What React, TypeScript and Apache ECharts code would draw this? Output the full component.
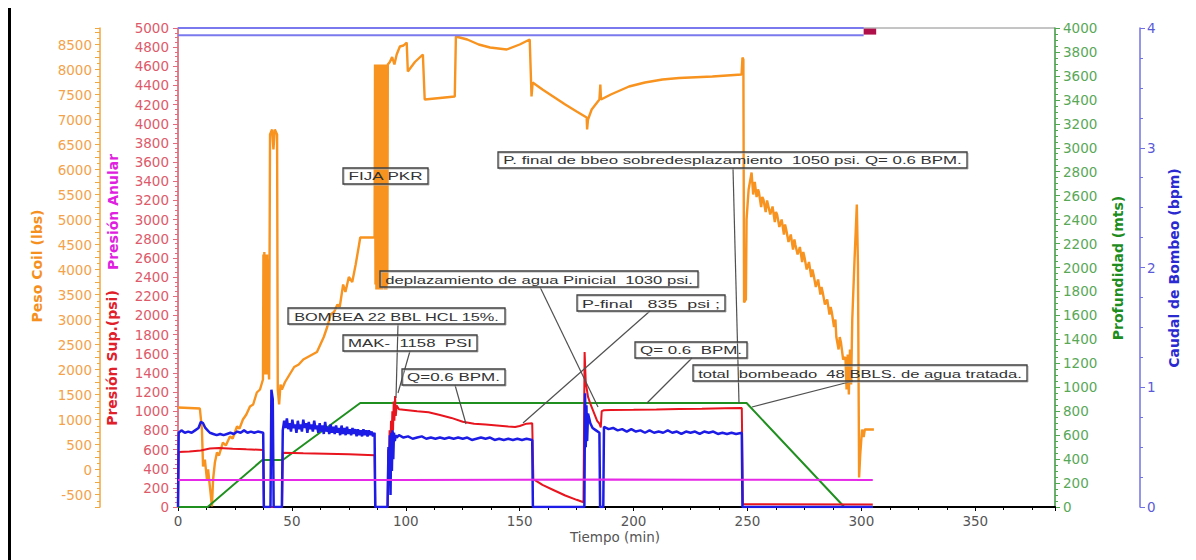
import React, { useEffect, useRef } from "react";
import * as echarts from "echarts";

// ---------- data (x = Tiempo (min)) ----------
const tiempoTicks = { min: 0, max: 385, step: 50 };
const presionTicks = { min: 0, max: 5000, step: 200 };
const pesoTicks = { min: -750, max: 8830, step: 250, label: 500 };
const profTicks = { min: 0, max: 4000, step: 200 };
const caudalTicks = { min: 0, max: 4, step: 1 };

// Caudal de Bombeo (bpm)
const caudal: number[][] = [
  [0, 0], [0.3, 0.62], [1.5, 0.64], [3, 0.62], [4.5, 0.63], [6, 0.62], [7.5, 0.64], [9, 0.66], [10, 0.71], [11, 0.7],
  [12, 0.66], [13, 0.64], [14, 0.62], [15.5, 0.61], [17, 0.6], [18.5, 0.61], [20, 0.6], [21.5, 0.61], [23, 0.62],
  [24.5, 0.61], [26, 0.63], [27.5, 0.62], [29, 0.64], [30.5, 0.62], [32, 0.63], [33.5, 0.62], [35, 0.63], [37.4, 0.62],
  [37.7, 0], [40.6, 0], [41, 0.98], [41.6, 0.9], [42, 0], [45.6, 0],
  [46, 0.64], [46.6, 0.72], [47.2, 0.66], [47.8, 0.74], [48.4, 0.65], [49, 0.7], [49.6, 0.63], [50.2, 0.73], [50.8, 0.66],
  [51.4, 0.69], [52, 0.62], [52.6, 0.72], [53.2, 0.65], [53.8, 0.69], [54.4, 0.63], [55, 0.73], [55.6, 0.66], [56.2, 0.7],
  [56.8, 0.62], [57.4, 0.71], [58, 0.65], [58.6, 0.69], [59.2, 0.63], [59.8, 0.72], [60.4, 0.65], [61, 0.68], [61.6, 0.62],
  [62.2, 0.7], [62.8, 0.63], [63.4, 0.68], [64, 0.61], [64.6, 0.71], [65.2, 0.63], [65.8, 0.67], [66.4, 0.61], [67, 0.69],
  [67.6, 0.62], [68.2, 0.67], [68.8, 0.61], [69.4, 0.68], [70, 0.62], [70.6, 0.66], [71.2, 0.6], [71.8, 0.68], [72.4, 0.61],
  [73, 0.66], [73.6, 0.6], [74.2, 0.67], [74.8, 0.61], [75.4, 0.65], [76, 0.6], [76.6, 0.66], [77.2, 0.61], [77.8, 0.65],
  [78.4, 0.59], [79, 0.65], [79.6, 0.6], [80.2, 0.64], [80.8, 0.59], [81.4, 0.65], [82, 0.6], [82.6, 0.64], [83.2, 0.59],
  [83.8, 0.64], [84.4, 0.6], [85, 0.63], [85.6, 0.59], [86.3, 0.62], [86.6, 0],
  [92, 0], [92.4, 0.5], [92.7, 0.2], [93, 0.6], [93.3, 0.1], [93.6, 0.62], [93.9, 0.3], [94.2, 0.64], [94.5, 0.4],
  [94.8, 0.62], [95.2, 0.55], [95.6, 0.6], [96, 0.58],
  [97, 0.6], [99, 0.58], [101, 0.59], [103, 0.57], [105, 0.58], [107, 0.59], [109, 0.57], [111, 0.58], [113, 0.57],
  [115, 0.58], [117, 0.57], [119, 0.58], [121, 0.57], [123, 0.58], [125, 0.57], [127, 0.58], [129, 0.56], [131, 0.57],
  [133, 0.58], [135, 0.57], [137, 0.58], [139, 0.56], [141, 0.57], [143, 0.56], [145, 0.57], [147, 0.56], [149, 0.57],
  [151, 0.56], [153, 0.57], [155.5, 0.56], [155.8, 0],
  [178.4, 0], [178.7, 0.95], [179, 0.5], [179.3, 0.85], [179.6, 0.55], [180, 0.78], [181, 0.7], [182, 0.66], [183.5, 0.64],
  [185, 0.62], [185.3, 0], [186.7, 0],
  [187, 0.67], [189, 0.65], [191, 0.66], [193, 0.64], [195, 0.65], [197, 0.63], [199, 0.65], [201, 0.63], [203, 0.64],
  [205, 0.62], [207, 0.64], [209, 0.62], [211, 0.63], [213, 0.62], [215, 0.64], [217, 0.62], [219, 0.63], [221, 0.61],
  [223, 0.63], [225, 0.62], [227, 0.63], [229, 0.61], [231, 0.63], [233, 0.62], [235, 0.63], [237, 0.61], [239, 0.62],
  [241, 0.61], [243, 0.62], [245, 0.61], [247.5, 0.62], [247.8, 0], [305, 0],
];

// Presión Sup. (psi)
const presionSup: number[][] = [
  [0, 0], [0.3, 575], [5, 580], [10, 590], [14, 610], [18, 616], [24, 608], [30, 602], [37.4, 596], [37.7, 0],
  [45.7, 0], [46, 565], [55, 560], [65, 555], [75, 550], [86.3, 540], [86.6, 0],
  [92, 0], [92.3, 600], [92.6, 350], [92.9, 800], [93.2, 500], [93.5, 900], [93.8, 700], [94.1, 1000], [94.4, 800],
  [94.7, 1100], [95, 900], [95.3, 1158], [95.6, 950], [96, 1060], [97, 1020], [100, 1013], [105, 1000], [110, 990],
  [115, 960], [120, 930], [125, 890], [130, 870], [135, 860], [140, 850], [145, 840], [148, 835], [150, 845],
  [153, 870], [155.5, 875], [156, 290], [160, 230], [165, 175], [170, 120], [175, 75], [178, 50],
  [178.5, 1618], [179, 1300], [180, 1150], [181, 1080], [182, 1020], [183, 960], [184, 900], [185, 870], [185.6, 830],
  [186, 1000], [187, 1010], [190, 1013], [200, 1015], [210, 1018], [220, 1022], [230, 1025], [240, 1030], [247.5, 1033],
  [248, 30], [305, 25],
];

// Presión Anular (psi)
const presionAnular: number[][] = [
  [0, 282], [100, 282], [190, 286], [230, 284], [305, 282],
];

// Profundidad (mts)
const profundidad: number[][] = [
  [0, 0], [13, 0], [37, 392], [46, 392], [80, 868], [249.6, 868], [292.5, 0], [305, 0],
];

// Peso Coil (lbs)
const pesoCoil: number[][] = [
  [0, 1240], [5, 1230], [9.6, 1220], [10.5, 800], [11, 60], [11.8, 200], [12.7, -200], [13.2, 0], [14, -340],
  [14.9, -740], [15.4, -200], [16.2, 140], [17.1, 340], [18, 280], [19.7, 540], [21, 480], [22.8, 660], [24, 620],
  [25.9, 860], [27, 820], [28.5, 1000], [30, 1100], [31.6, 1260], [33, 1300], [34.6, 1540], [36, 1600], [37.3, 1800],
  [37.5, 4300], [37.7, 1900], [37.9, 4350], [38.1, 2000], [38.3, 4300], [38.5, 1900], [38.7, 4250], [38.9, 2000],
  [39.1, 4300], [39.3, 1900], [39.5, 4200], [39.7, 2100],
  [40, 1800], [40.4, 6700], [41.3, 6800], [41.9, 6400], [42.5, 6800], [43.5, 6700], [43.8, 1600], [44.4, 1300],
  [45, 1700], [45.6, 1600], [47, 1750], [49, 1900], [51, 2050], [53, 2100], [55, 2200], [57, 2250], [59, 2300],
  [61, 2350], [62.5, 2500], [64, 2650], [65.5, 2850], [67, 3100], [68.5, 3150], [70, 3300], [71, 3250], [72.5, 3700],
  [73.5, 3550], [75, 3850], [76.5, 3750], [78, 4100], [79.5, 4500], [80, 4640], [86.3, 4640],
  [86.5, 8100], [86.7, 3700], [86.9, 8000], [87.1, 3600], [87.3, 8100], [87.5, 3800], [87.7, 8050], [87.9, 3600],
  [88.1, 8100], [88.3, 3700], [88.5, 8000], [88.7, 3600], [88.9, 8100], [89.1, 3800], [89.3, 8000], [89.5, 3600],
  [89.7, 8100], [89.9, 3700], [90.1, 8100], [90.3, 3650], [90.5, 8050], [90.7, 3600], [90.9, 8100], [91.1, 3750],
  [91.3, 8000], [91.5, 3600], [91.7, 8100], [91.9, 3700], [92.1, 8100],
  [93, 8150], [94, 8250], [95, 8100], [96, 8300], [97.4, 8460], [99, 8480], [100.4, 8540], [100.9, 7960],
  [104, 8150], [107.5, 8300], [108.3, 7400], [115, 7430], [121.5, 7460], [122, 8660], [127, 8600], [132, 8500],
  [137, 8440], [144.3, 8400], [150, 8500], [154.4, 8600], [155.2, 7460], [155.7, 7740], [160, 7600], [165, 7450],
  [170, 7300], [175, 7160], [179.4, 7040], [179.6, 6800], [180, 7000], [181.6, 7200], [185, 7400], [185.4, 7700],
  [185.7, 7400], [190, 7500], [198, 7660], [205, 7740], [212.7, 7800], [220, 7830], [234.6, 7860], [247.4, 7900],
  [247.8, 8240], [248.2, 8200], [248.5, 3340], [249.3, 3400], [249.6, 5000], [250.5, 5600], [251.8, 5940],
  [252.5, 5500], [253.2, 5750], [254, 5450], [254.6, 5600], [255, 5550], [256, 5250], [256.5, 5450], [257, 5400],
  [258, 5150], [258.6, 5380], [259, 5300], [260, 5100], [261, 5260], [262, 4950], [262.5, 5150], [263, 5100],
  [264, 4850], [265, 5000], [266, 4700], [266.5, 4900], [267, 4800], [268, 4550], [269, 4700], [270, 4400],
  [270.6, 4600], [271, 4500], [272, 4300], [273, 4450], [274, 4150], [274.5, 4350], [275, 4250], [276, 4000],
  [277, 4150], [278, 3850], [278.5, 4000], [279, 3900], [280, 3650], [281, 3800], [282, 3500], [282.5, 3650],
  [283, 3550], [284, 3300], [285, 3400], [286, 3100], [286.5, 3250], [287, 3150], [288, 2850], [288.6, 3000],
  [289, 2650], [290, 2400], [290.5, 2650], [291, 2550], [292, 2200], [293, 2250], [293.5, 1600], [294, 2300],
  [294.5, 1500], [295, 2400], [295.5, 1700], [296, 3000], [297, 4200], [298, 5300], [298.5, 4100], [299, -160],
  [299.5, 300], [300.3, 800], [301, 650], [301.5, 800], [305.5, 800],
];

// status band on the top edge (Caudal scale)
const bandOuter: number[][] = [[0, 4], [301, 4]];
const bandInner: number[][] = [[0, 3.94], [301, 3.94]];
const bandEnd: number[][] = [[301, 3.97], [306.5, 3.97]];

// ---------- annotation layout (pixels) ----------
const annotations = [
  { t: "FIJA PKR", x: 343, y: 168, w: 85, h: 16, l: null as number[] | null },
  { t: "P. final de bbeo sobredesplazamiento  1050 psi. Q= 0.6 BPM.", x: 498, y: 152, w: 469, h: 16, l: [733, 168, 739, 403] },
  { t: "deplazamiento de agua Pinicial  1030 psi.", x: 380, y: 271, w: 318, h: 16, l: [540, 287, 598, 407] },
  { t: "P-final   835  psi ;", x: 577, y: 295, w: 148, h: 16, l: [650, 311, 523, 423] },
  { t: "BOMBEA 22 BBL HCL 15%.", x: 288, y: 308, w: 217, h: 16, l: [398, 324, 396, 398] },
  { t: "MAK-  1158  PSI", x: 343, y: 335, w: 134, h: 16, l: [410, 351, 398, 393] },
  { t: "Q=0.6 BPM.", x: 402, y: 369, w: 103, h: 16, l: [455, 385, 466, 424] },
  { t: "Q= 0.6  BPM.", x: 635, y: 342, w: 112, h: 16, l: [692, 358, 647, 403] },
  { t: "total  bombeado  48 BBLS. de agua tratada.", x: 693, y: 365, w: 334, h: 16, l: [853, 381, 752, 407] },
];

const titles = [
  { t: "Peso Coil (lbs)", x: 37, y: 266, color: "#f5901e" },
  { t: "Presión Anular", x: 113, y: 212, color: "#e020e0" },
  { t: "Presión Sup.(psi)", x: 112, y: 358, color: "#e0202a" },
  { t: "Profundidad (mts)", x: 1118, y: 268, color: "#1e8c1e" },
  { t: "Caudal de Bombeo (bpm)", x: 1174, y: 268, color: "#2a2ad0" },
];

const ANNOT_FONT = '11.5px "Liberation Sans"';

function measure(text: string, font: string): number {
  const c = document.createElement("canvas").getContext("2d");
  if (!c) return text.length * 6;
  c.font = font;
  return c.measureText(text).width;
}

const labelFont = { fontFamily: "DejaVu Sans", fontSize: 13.5 };

function yAxisCfg(
  ticks: { min: number; max: number; step: number; label?: number },
  position: string,
  offset: number,
  lineColor: string,
  labelColor: string,
  minorSplit: number,
  margin: number
) {
  return {
    type: "value",
    position,
    offset,
    min: ticks.min,
    max: ticks.max,
    interval: ticks.step,
    axisLine: { show: true, onZero: false, lineStyle: { color: lineColor, width: 1.5 } },
    axisTick: { show: true, length: 5, lineStyle: { color: lineColor } },
    minorTick: { show: true, splitNumber: minorSplit, length: 3, lineStyle: { color: lineColor } },
    splitLine: { show: false },
    axisLabel: {
      color: labelColor,
      margin,
      ...labelFont,
      formatter: (v: number) => {
        const lab = ticks.label ?? ticks.step;
        const r = Math.round(v * 1000) / 1000;
        return Math.abs(r / lab - Math.round(r / lab)) < 1e-6 ? String(r) : "";
      },
    },
  };
}

export default function App() {
  const ref = useRef<HTMLDivElement>(null);

  useEffect(() => {
    if (!ref.current) return;
    const chart = echarts.init(ref.current, undefined, { renderer: "svg" });

    const graphics: any[] = [];
    graphics.push({
      type: "rect",
      shape: { x: 8, y: 8, width: 3, height: 552 },
      style: { fill: "#000" },
      z: 100,
    });
    graphics.push({
      type: "text",
      x: 615,
      y: 537,
      style: {
        text: "Tiempo (min)",
        font: '13.5px "DejaVu Sans"',
        fill: "#555",
        align: "center",
        verticalAlign: "middle",
        textAlign: "center",
        textVerticalAlign: "middle",
      },
      z: 100,
    });
    titles.forEach((tt) => {
      graphics.push({
        type: "text",
        x: tt.x,
        y: tt.y,
        rotation: Math.PI / 2,
        style: {
          text: tt.t,
          font: 'bold 14px "DejaVu Sans"',
          fill: tt.color,
          align: "center",
          verticalAlign: "middle",
          textAlign: "center",
          textVerticalAlign: "middle",
        },
        z: 100,
      });
    });
    annotations.forEach((a) => {
      if (a.l) {
        graphics.push({
          type: "line",
          shape: { x1: a.l[0], y1: a.l[1], x2: a.l[2], y2: a.l[3] },
          style: { stroke: "#505050", lineWidth: 1.2 },
          z: 100,
        });
      }
      graphics.push({
        type: "rect",
        shape: { x: a.x + 1, y: a.y + 1, width: a.w, height: a.h },
        style: { fill: "none", stroke: "#b0b0b0", lineWidth: 1 },
        z: 100,
      });
      graphics.push({
        type: "rect",
        shape: { x: a.x, y: a.y, width: a.w, height: a.h },
        style: { fill: "none", stroke: "#404040", lineWidth: 1.3 },
        z: 101,
      });
      const mw = measure(a.t, ANNOT_FONT);
      const s = mw > 0 ? (a.w - 10) / mw : 1;
      graphics.push({
        type: "text",
        x: a.x + a.w / 2,
        y: a.y + a.h / 2 + 0.5,
        scaleX: s,
        style: {
          text: a.t,
          font: ANNOT_FONT,
          fill: "#333",
          align: "center",
          verticalAlign: "middle",
          textAlign: "center",
          textVerticalAlign: "middle",
        },
        z: 102,
      });
    });

    const line = (name: string, data: number[][], yAxisIndex: number, color: string, width: number, z: number, clip = true) => ({
      name,
      type: "line",
      data,
      yAxisIndex,
      xAxisIndex: 0,
      showSymbol: false,
      symbol: "none",
      clip,
      z,
      lineStyle: { color, width },
      itemStyle: { color },
    });

    const option: any = {
      animation: false,
      backgroundColor: "#fff",
      grid: {
        left: 178,
        right: 141,
        top: 28,
        bottom: 53,
        show: true,
        borderColor: "#8a8a8a",
        borderWidth: 1,
        backgroundColor: "transparent",
      },
      xAxis: {
        type: "value",
        min: tiempoTicks.min,
        max: tiempoTicks.max,
        interval: tiempoTicks.step,
        axisLine: { show: true, onZero: false, lineStyle: { color: "#000", width: 2 } },
        axisTick: { show: true, length: 4, lineStyle: { color: "#000" } },
        minorTick: { show: true, splitNumber: 4, length: 3, lineStyle: { color: "#000" } },
        splitLine: { show: false },
        axisLabel: {
          color: "#555",
          margin: 7,
          ...labelFont,
          formatter: (v: number) => (v % tiempoTicks.step === 0 ? String(v) : ""),
        },
      },
      yAxis: [
        yAxisCfg(presionTicks, "left", 0, "#e46a7c", "#de5a6a", 4, 9),
        yAxisCfg(pesoTicks, "left", 78, "#f2a640", "#f4a24a", 2, 8),
        yAxisCfg(profTicks, "right", 0, "#4fa84f", "#58a858", 4, 8),
        yAxisCfg(caudalTicks, "right", 85, "#7272e6", "#5a5ad8", 4, 7),
      ],
      series: [
        line("Peso Coil", pesoCoil, 1, "#f7931e", 2.4, 2),
        line("Profundidad", profundidad, 2, "#1f8f1f", 2, 3),
        line("Presión Sup.", presionSup, 0, "#e8141e", 2, 4),
        line("Caudal", caudal, 3, "#1c1ce6", 2.5, 5),
        line("Presión Anular", presionAnular, 0, "#e629e6", 2, 6),
        line("band1", bandOuter, 3, "#7a7aee", 2, 7, false),
        line("band2", bandInner, 3, "#7a7aee", 2, 7, false),
        line("band3", bandEnd, 3, "#b0104a", 6, 8, false),
      ],
      graphic: { elements: graphics },
    };

    chart.setOption(option);
    return () => chart.dispose();
  }, []);

  return (
    <div
      ref={ref}
      style={{ position: "absolute", left: 0, top: 0, width: 1196, height: 560, background: "#fff" }}
    />
  );
}
